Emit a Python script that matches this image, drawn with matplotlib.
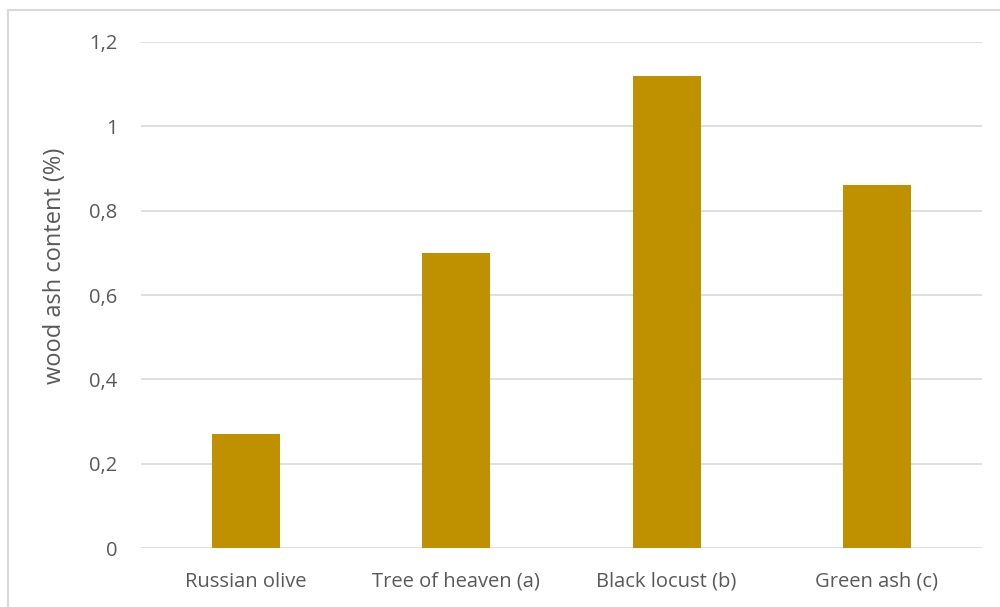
import matplotlib
matplotlib.use("Agg")
import matplotlib.pyplot as plt
from matplotlib.patches import Rectangle

categories = ["Russian olive", "Tree of heaven (a)", "Black locust (b)", "Green ash (c)"]
values = [0.27, 0.70, 1.12, 0.86]
yticks = [0, 0.2, 0.4, 0.6, 0.8, 1.0, 1.2]
ytick_labels = ["0", "0,2", "0,4", "0,6", "0,8", "1", "1,2"]

W, H = 1000, 607
fig = plt.figure(figsize=(W/100, H/100), dpi=100)
plt.rcParams['font.family'] = ['Open Sans', 'DejaVu Sans']

# outer chart border
fig.patches.append(Rectangle((8/W, -0.05), 1.1, (H-10)/H + 0.05, transform=fig.transFigure,
                             fill=False, edgecolor="#d9d9d9", linewidth=1.5))

left, right = 141, 982
top, bottom = 42, 548
ax = fig.add_axes([left/W, 1-bottom/H, (right-left)/W, (bottom-top)/H])

x = range(len(categories))
ax.bar(x, values, width=0.324, color="#BF9000", zorder=3)
ax.set_xlim(-0.5, len(categories)-0.5)
ax.set_ylim(0, 1.2)
ax.set_yticks(yticks)
ax.set_yticklabels(ytick_labels)
ax.set_xticks(list(x))
ax.set_xticklabels(categories)
ax.grid(axis="y", color="#d9d9d9", linewidth=1.2, zorder=0)
for s in ax.spines.values():
    s.set_visible(False)
ax.tick_params(axis="both", length=0, labelsize=14.5, labelcolor="#595959")
ax.tick_params(axis="y", pad=17)
ax.tick_params(axis="x", pad=17)
ax.set_ylabel("wood ash content (%)", fontsize=17, color="#595959")
ax.yaxis.label.set_va("center")
ax.yaxis.set_label_coords((55-left)/(right-left), (bottom-266)/(bottom-top))
ax.set_axisbelow(True)

fig.savefig("out.png", dpi=100)
